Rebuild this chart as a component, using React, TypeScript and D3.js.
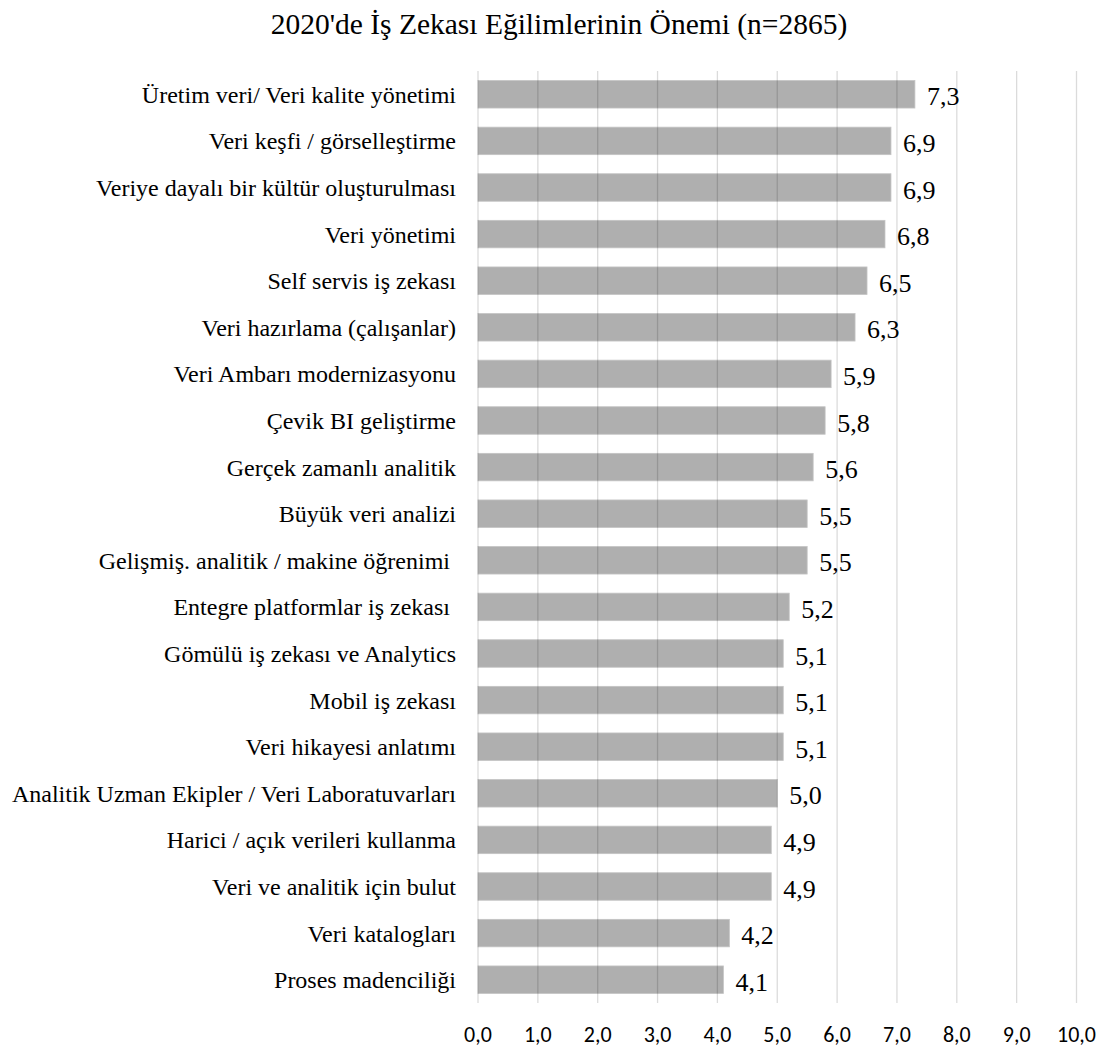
import React from "react";
import * as d3 from "d3";

const categories = [
  "Üretim veri/ Veri kalite yönetimi",
  "Veri keşfi / görselleştirme",
  "Veriye dayalı bir kültür oluşturulması",
  "Veri yönetimi",
  "Self servis iş zekası",
  "Veri hazırlama (çalışanlar)",
  "Veri Ambarı modernizasyonu",
  "Çevik BI geliştirme",
  "Gerçek zamanlı analitik",
  "Büyük veri analizi",
  "Gelişmiş. analitik / makine öğrenimi ",
  "Entegre platformlar iş zekası ",
  "Gömülü iş zekası ve Analytics",
  "Mobil iş zekası",
  "Veri hikayesi anlatımı",
  "Analitik Uzman Ekipler / Veri Laboratuvarları",
  "Harici / açık verileri kullanma",
  "Veri ve analitik için bulut",
  "Veri katalogları",
  "Proses madenciliği",
];
const values = [7.3, 6.9, 6.9, 6.8, 6.5, 6.3, 5.9, 5.8, 5.6, 5.5, 5.5, 5.2, 5.1, 5.1, 5.1, 5.0, 4.9, 4.9, 4.2, 4.1];
const ticks = [0, 1, 2, 3, 4, 5, 6, 7, 8, 9, 10];
const title = "2020'de İş Zekası Eğilimlerinin Önemi (n=2865)";

const W = 1107;
const H = 1047;
const serif = "'Liberation Serif', 'Times New Roman', serif";
const sans = "Carlito, 'Open Sans', sans-serif";

export default function App() {
  const x = d3.scaleLinear().domain([0, 10]).range([478, 1076.5]);
  const y = d3.scaleBand<string>().domain(categories).range([71, 1003]).paddingInner(0.41).paddingOuter(0.205);
  const fmt = (v: number) => v.toFixed(1).replace(".", ",");
  return (
    <svg width={W} height={H} style={{ position: "absolute", left: 0, top: 0, background: "#fff" }}>
      <text x={559} y={34} textAnchor="middle" fontFamily={serif} fontSize={29.5} fill="#000">
        {title}
      </text>
      {categories.map((c, i) => (
        <rect
          key={c + i}
          x={x(0)}
          y={y(c)!}
          width={x(values[i]) - x(0)}
          height={y.bandwidth()}
          fill="#afafaf"
          stroke="#c4c4c4"
          strokeWidth={0.8}
        />
      ))}
      {ticks.map((t) => (
        <line key={t} x1={x(t)} x2={x(t)} y1={71} y2={1003} stroke="#000" strokeOpacity={0.14} strokeWidth={1.3} />
      ))}
      {categories.map((c, i) => (
        <text
          key={"l" + i}
          x={456}
          y={y(c)! + y.bandwidth() / 2}
          dy="0.35em"
          textAnchor="end"
          fontFamily={serif}
          fontSize={24}
          fill="#000"
          style={{ whiteSpace: "pre" }}
        >
          {c}
        </text>
      ))}
      {categories.map((c, i) => (
        <text
          key={"v" + i}
          x={x(values[i]) + 12}
          y={y(c)! + y.bandwidth() / 2 + 2}
          dy="0.35em"
          fontFamily={serif}
          fontSize={26}
          fill="#000"
        >
          {fmt(values[i])}
        </text>
      ))}
      {ticks.map((t) => (
        <text key={"t" + t} x={x(t)} y={1042} textAnchor="middle" fontFamily={sans} fontSize={22} fill="#000">
          {fmt(t)}
        </text>
      ))}
    </svg>
  );
}
